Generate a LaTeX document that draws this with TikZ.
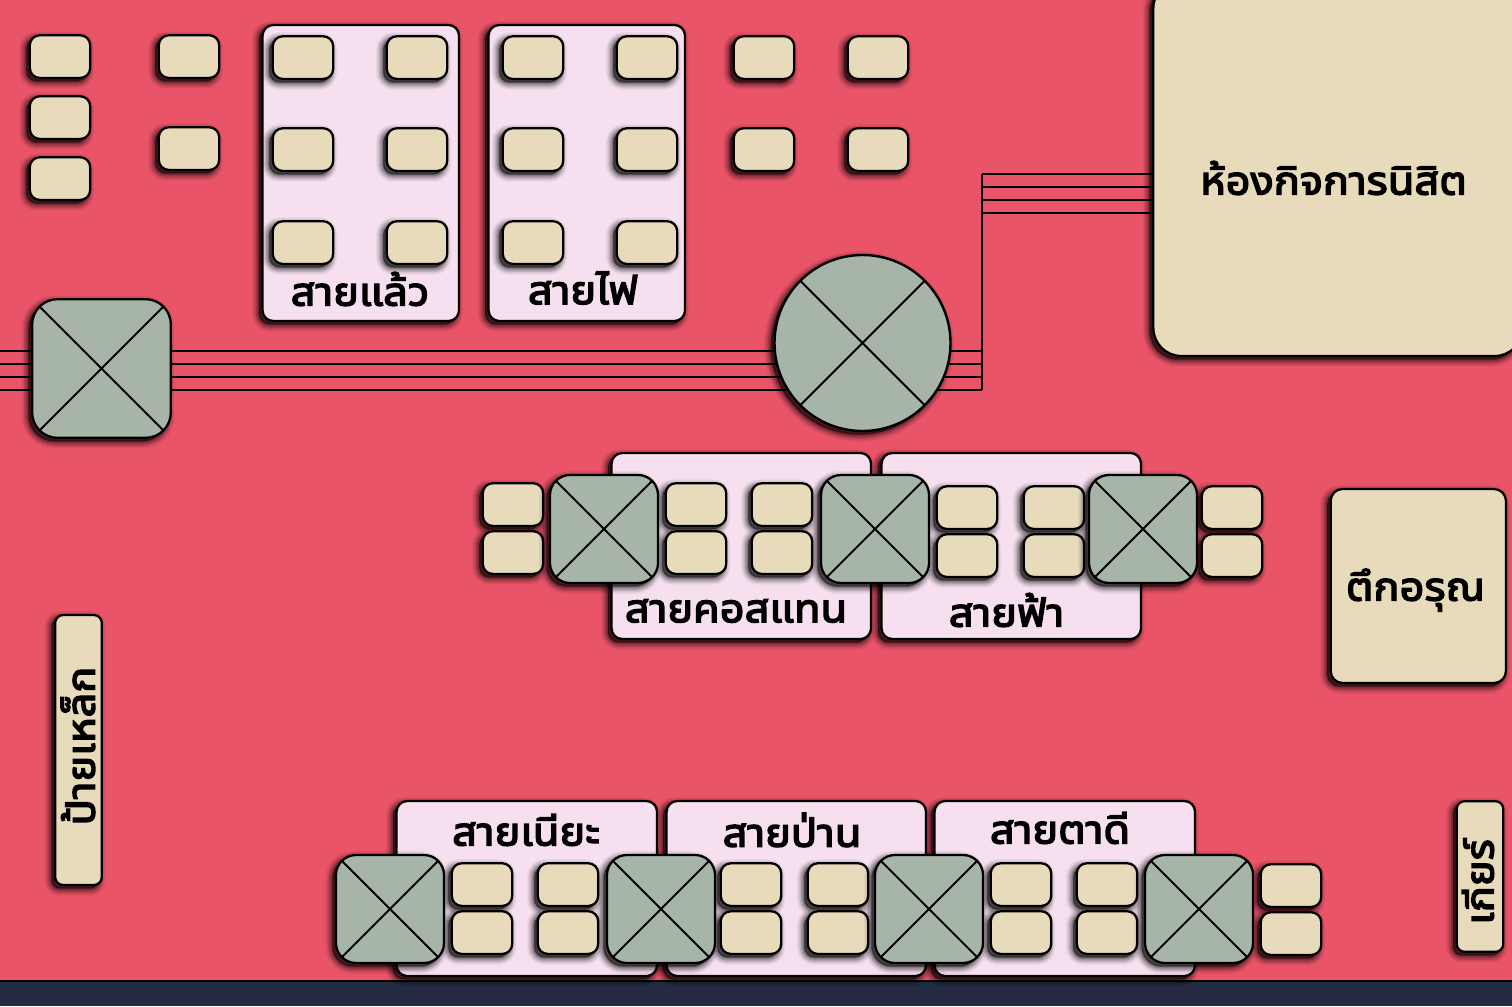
\documentclass[tikz,border=0pt]{standalone}
\usepackage{fontspec}
\newfontfamily\thaifont[Script=Thai,FakeBold=3.4,FakeStretch=1.05]{Noto Sans Thai UI}
\usetikzlibrary{shadows,shapes.geometric}
\definecolor{bgred}{HTML}{EA5468}
\definecolor{cream}{HTML}{E8DBBC}
\definecolor{sage}{HTML}{A6B5A8}
\definecolor{pinkp}{HTML}{F6E0EF}
\definecolor{navy}{HTML}{232B42}
\tikzset{
  x=0.75pt,y=-0.75pt,
  softshadow/.style={
    general shadow={shadow xshift=-2.6pt,shadow yshift=-2.6pt,fill=black,draw=black,opacity=.05,line width=11pt},
    general shadow={shadow xshift=-2.6pt,shadow yshift=-2.6pt,fill=black,draw=black,opacity=.07,line width=9pt},
    general shadow={shadow xshift=-2.6pt,shadow yshift=-2.6pt,fill=black,draw=black,opacity=.1,line width=7pt},
    general shadow={shadow xshift=-2.6pt,shadow yshift=-2.6pt,fill=black,draw=black,opacity=.13,line width=5pt},
    general shadow={shadow xshift=-2.6pt,shadow yshift=-2.6pt,fill=black,draw=black,opacity=.18,line width=3pt},
    general shadow={shadow xshift=-2.6pt,shadow yshift=-2.6pt,fill=black,draw=black,opacity=.2,line width=1pt}},
  boxbase/.style={rectangle,draw=black,line width=1.7pt,softshadow,inner sep=0pt,outer sep=0pt},
  seat/.style={boxbase,fill=cream,rounded corners=7.5pt,minimum width=45.3pt,minimum height=32pt},
  panel/.style={boxbase,fill=pinkp,rounded corners=8pt},
  crossed/.style={fill=sage,path picture={\draw[line width=1.4pt,black]
     (path picture bounding box.north west)--(path picture bounding box.south east)
     (path picture bounding box.north east)--(path picture bounding box.south west);}},
  xsmall/.style={boxbase,crossed,rounded corners=15pt,minimum size=81pt},
  xlarge/.style={boxbase,crossed,rounded corners=19pt,minimum size=104pt},
  xround/.style={circle,draw=black,line width=1.8pt,softshadow,crossed,inner sep=0pt,outer sep=0pt,minimum size=132pt},
  room/.style={boxbase,fill=cream},
  wire/.style={draw=black,line width=1.3pt},
  lab/.style={font=\thaifont\fontsize{31pt}{34pt}\selectfont,text=black,inner sep=0pt},
}
% #1 name, #2 left px, #3 top px
\newcommand{\seatat}[3]{\node[seat] (#1) at ({#2+31},{#3+21.6}) {};}
\newcommand{\panelat}[5]{\node[panel,minimum width={(#4-#2-0.6)*0.75pt},minimum height={(#5-#3)*0.75pt}] (#1) at ({(#2+#4+0.6)/2},{(#3+#5)/2}) {};}
\begin{document}
\begin{tikzpicture}
\useasboundingbox (0,0) rectangle (1512,1006);
\clip (0,0) rectangle (1512,1006);
\fill[bgred] (0,0) rectangle (1512,1006);
% wires
\coordinate (wl1) at (-5,351); \coordinate (wl2) at (-5,364); \coordinate (wl3) at (-5,377); \coordinate (wl4) at (-5,390);
\coordinate (wj1) at (982,351); \coordinate (wj2) at (982,364); \coordinate (wj3) at (982,377); \coordinate (wj4) at (982,390);
\coordinate (wt1) at (982,174); \coordinate (wt2) at (982,187); \coordinate (wt3) at (982,200); \coordinate (wt4) at (982,213);
\coordinate (wr1) at (1153,174); \coordinate (wr2) at (1153,187); \coordinate (wr3) at (1153,200); \coordinate (wr4) at (1153,213);
\draw[wire] (wl1)--(wj1) (wl2)--(wj2) (wl3)--(wj3) (wl4)--(wj4);
\draw[wire] (wt1)--(wr1) (wt2)--(wr2) (wt3)--(wr3) (wt4)--(wr4);
\draw[wire] (wt1)--(wj4);
% room and big boxes
\node[room,rounded corners=21pt,minimum width=277pt,minimum height=282pt] (kitroom) at (1338,168) {};
\node[lab] (kitlab) at (1333.5,178) {ห้องกิจการนิสิต};
\node[room,rounded corners=9pt,minimum width=131.5pt,minimum height=145.5pt] (arun) at (1418.3,586) {};
\node[lab] (arunlab) at (1415.5,590) {ตึกอรุณ};
\node[room,rounded corners=6pt,minimum width=35pt,minimum height=202.5pt] (sign) at (78.5,750) {};
\node[lab,rotate=90] (signlab) at (78,746) {ป้ายเหล็ก};
\node[room,rounded corners=6pt,minimum width=35pt,minimum height=113pt] (gear) at (1480,876.5) {};
\node[lab,rotate=90] (gearlab) at (1478,882) {เกียร์};
% left seats
\seatat{a1}{29}{35}\seatat{a2}{29}{96}\seatat{a3}{29}{157}
\seatat{a4}{158}{35}\seatat{a5}{158}{127}
% top panels
\panelat{p1}{262}{25}{459}{321}
\panelat{p2}{488}{25}{685}{321}
\node[lab] (p1lab) at (360,289) {สายแล้ว};
\node[lab] (p2lab) at (583,288) {สายไฟ};
\seatat{b1}{272}{36}\seatat{b2}{386}{36}\seatat{b3}{272}{128}\seatat{b4}{386}{128}\seatat{b5}{272}{221}\seatat{b6}{386}{221}
\seatat{c1}{502}{36}\seatat{c2}{616}{36}\seatat{c3}{502}{128}\seatat{c4}{616}{128}\seatat{c5}{502}{221}\seatat{c6}{616}{221}
\seatat{d1}{733}{36}\seatat{d2}{847}{36}\seatat{d3}{733}{128}\seatat{d4}{847}{128}
% crossed
\node[xlarge] (xa) at (101.5,368.5) {};
\node[xround] (xb) at (862.5,343) {};
% middle row
\panelat{p3}{611}{453}{871}{639}
\panelat{p4}{881}{453}{1141}{639}
\node[lab] (p3lab) at (736,611) {สายคอสแทน};
\node[lab] (p4lab) at (1006.5,610) {สายฟ้า};
\seatat{e1}{482}{483}\seatat{e2}{482}{531}
\seatat{e3}{665}{483}\seatat{e4}{665}{531}
\seatat{e5}{751}{483}\seatat{e6}{751}{531}
\seatat{f1}{936}{486}\seatat{f2}{936}{534}
\seatat{f3}{1023}{486}\seatat{f4}{1023}{534}
\seatat{f5}{1201}{486}\seatat{f6}{1201}{534}
\node[xsmall] (xc) at (604,529) {};
\node[xsmall] (xd) at (875,529) {};
\node[xsmall] (xe) at (1143,529) {};
% bottom row
\fill[navy] (0,981) rectangle (1512,1006);
\draw[line width=1pt,black] (0,981)--(1512,981);
\panelat{p5}{396}{801}{657}{976}
\panelat{p6}{666}{801}{926}{976}
\panelat{p7}{934}{801}{1195}{976}
\node[lab] (p5lab) at (526,830) {สายเนียะ};
\node[lab] (p6lab) at (792,830) {สายป่าน};
\node[lab] (p7lab) at (1060,828) {สายตาดี};
\seatat{g1}{451}{863}\seatat{g2}{451}{911}
\seatat{g3}{537}{863}\seatat{g4}{537}{911}
\seatat{g5}{720}{863}\seatat{g6}{720}{911}
\seatat{g7}{807}{863}\seatat{g8}{807}{911}
\seatat{g9}{990}{863}\seatat{g10}{990}{911}
\seatat{g11}{1076}{863}\seatat{g12}{1076}{911}
\seatat{g13}{1260}{864}\seatat{g14}{1260}{912}
\node[xsmall] (xf) at (390,909) {};
\node[xsmall] (xg) at (661,909) {};
\node[xsmall] (xh) at (929,909) {};
\node[xsmall] (xi) at (1199,909) {};
\end{tikzpicture}
\end{document}
